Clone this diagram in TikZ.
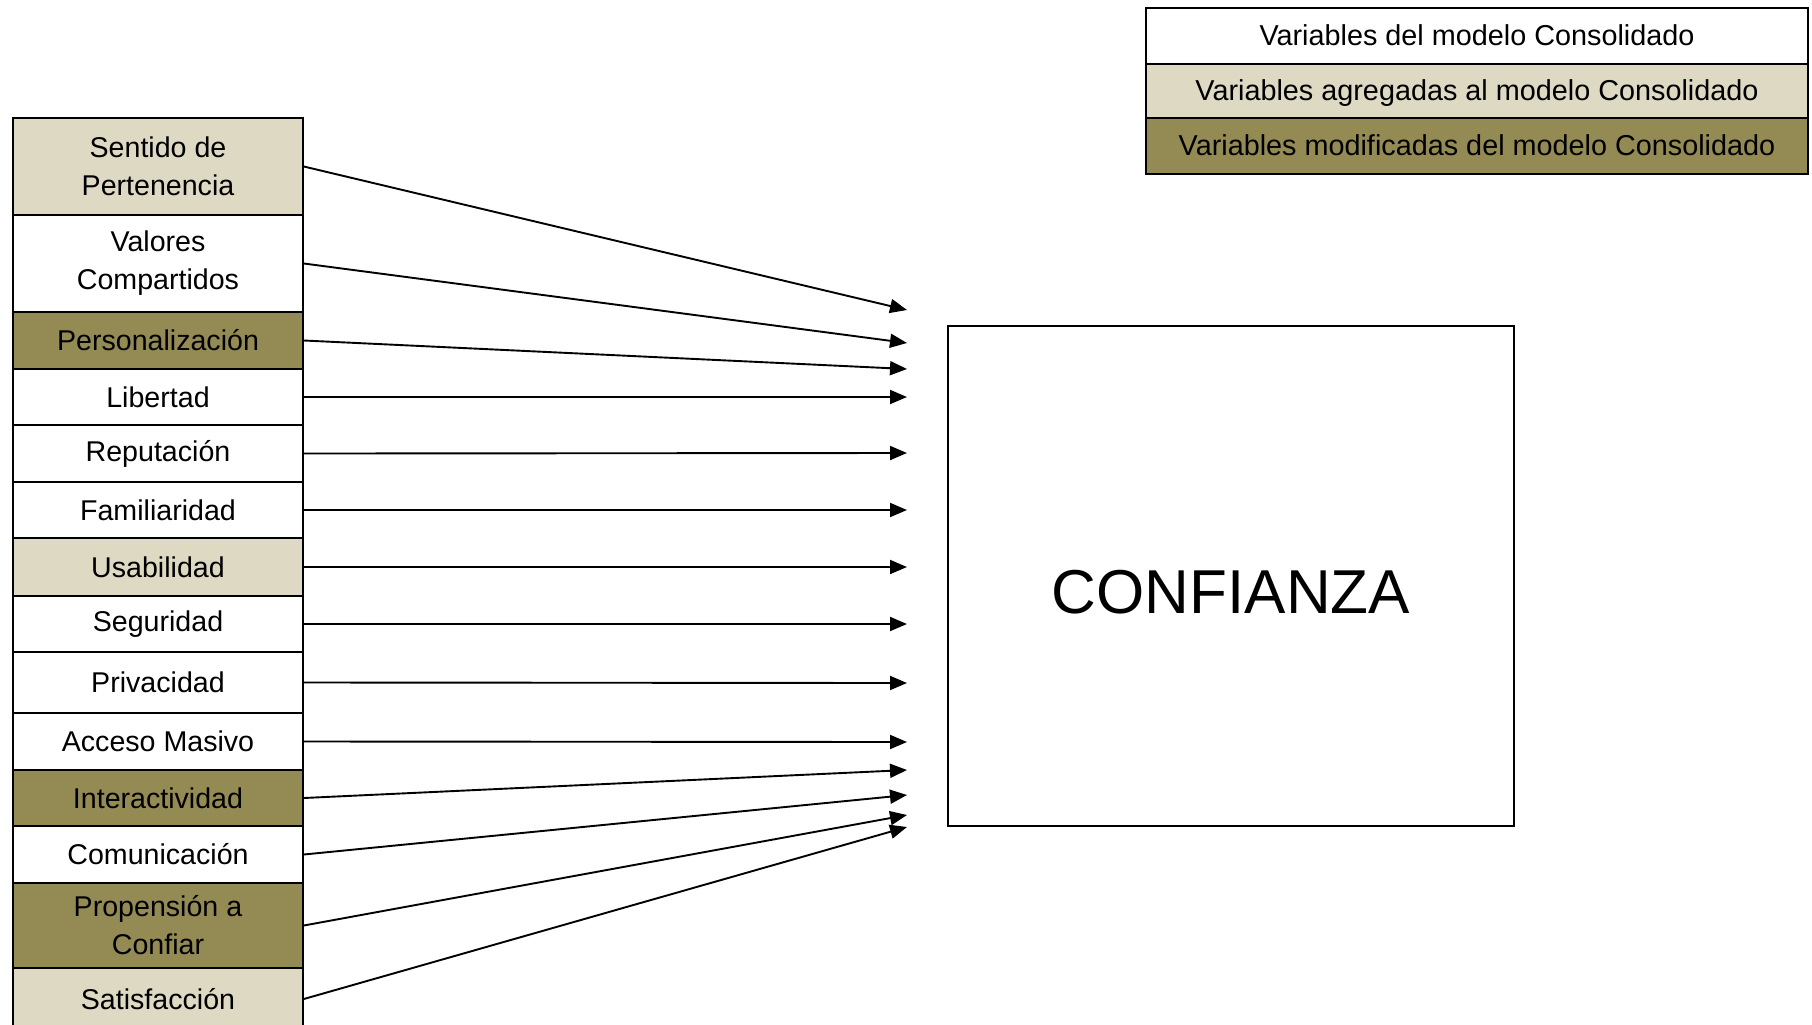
\documentclass[tikz,border=0pt]{standalone}
\usepackage{fontspec}
\setmainfont{Liberation Sans}
\usetikzlibrary{
	arrows.meta,
	positioning
}
\definecolor{agregada}{HTML}{DDD9C3}
\definecolor{modificada}{HTML}{948A54}

\begin{document}
\begin{tikzpicture}[
    x=0.5pt, y=-0.5pt,
    varcaja/.style={draw, line width=0.85pt, rectangle, inner sep=0pt, minimum width=145pt, align=center, font=\fontsize{14.3}{19}\selectfont},
    leyenda/.style={draw, line width=0.85pt, rectangle, inner sep=0pt, minimum width=331pt, text height=10.5pt, text depth=0.6pt, font=\fontsize{14.4}{17}\selectfont},
    flecha/.style={->, line width=0.95pt, >={Triangle[length=8.5pt, width=7pt]}}
]
    % Definitions
    \def \colx{158}
    \def \tipx{907}
    \useasboundingbox (0,0) rectangle (1812,1024);
    \clip (0,0) rectangle (1812,1024);
    %%%
    %%% Variables (left column)
    %%%
    \foreach \nombre/\arriba/\abajo/\relleno/\etiqueta in {
        sentido/118/215/agregada/{Sentido de\\Pertenencia},
        valores/215/312/white/{Valores\\Compartidos},
        personal/312/369/modificada/{Personalización},
        libertad/369/425/white/{Libertad},
        reputacion/425/482/white/{Reputación},
        familiaridad/482/538/white/{Familiaridad},
        usabilidad/538/596/agregada/{Usabilidad},
        seguridad/596/652/white/{Seguridad},
        privacidad/652/713/white/{Privacidad},
        acceso/713/770/white/{Acceso Masivo},
        interactiv/770/826/modificada/{Interactividad},
        comunicacion/826/883/white/{Comunicación},
        propension/883/968/modificada/{Propensión a\\Confiar},
        satisfaccion/968/1030/agregada/{Satisfacción}}
    {
        \node[varcaja, fill=\relleno, minimum height={(\abajo-\arriba)*0.5pt}] (\nombre) at (\colx, {(\arriba+\abajo)/2}) {\etiqueta};
    }
    %%%
    %%% Arrows
    %%%
    \foreach \nombre/\fin in {sentido/310, valores/343, personal/369, libertad/397,
        reputacion/453, familiaridad/510, usabilidad/567, seguridad/624, privacidad/683,
        acceso/742, interactiv/770, comunicacion/795, propension/815, satisfaccion/827}
    {
        \coordinate (fin-\nombre) at (\tipx, \fin);
        \draw[flecha] (\nombre.east) -- (fin-\nombre);
    }
    % Target box
    \node[draw, line width=0.8pt, rectangle, minimum width=283pt, minimum height=250pt] (confianza) at (1231, 576) {};
    \node[font=\fontsize{31}{37}\selectfont, yshift=-8pt] (confianzatxt) at (confianza.center) {CONFIANZA};
    %%%
    %%% Legend
    %%%
    \node[leyenda, minimum height=28pt] (consolidado) at (1477, 36) {Variables del modelo Consolidado};
    \node[leyenda, fill=agregada, minimum height=27pt] (agregadas) at (1477, 91) {Variables agregadas al modelo Consolidado};
    \node[leyenda, fill=modificada, minimum height=28pt] (modificadas) at (1477, 146) {Variables modificadas del modelo Consolidado};
\end{tikzpicture}
\end{document}
